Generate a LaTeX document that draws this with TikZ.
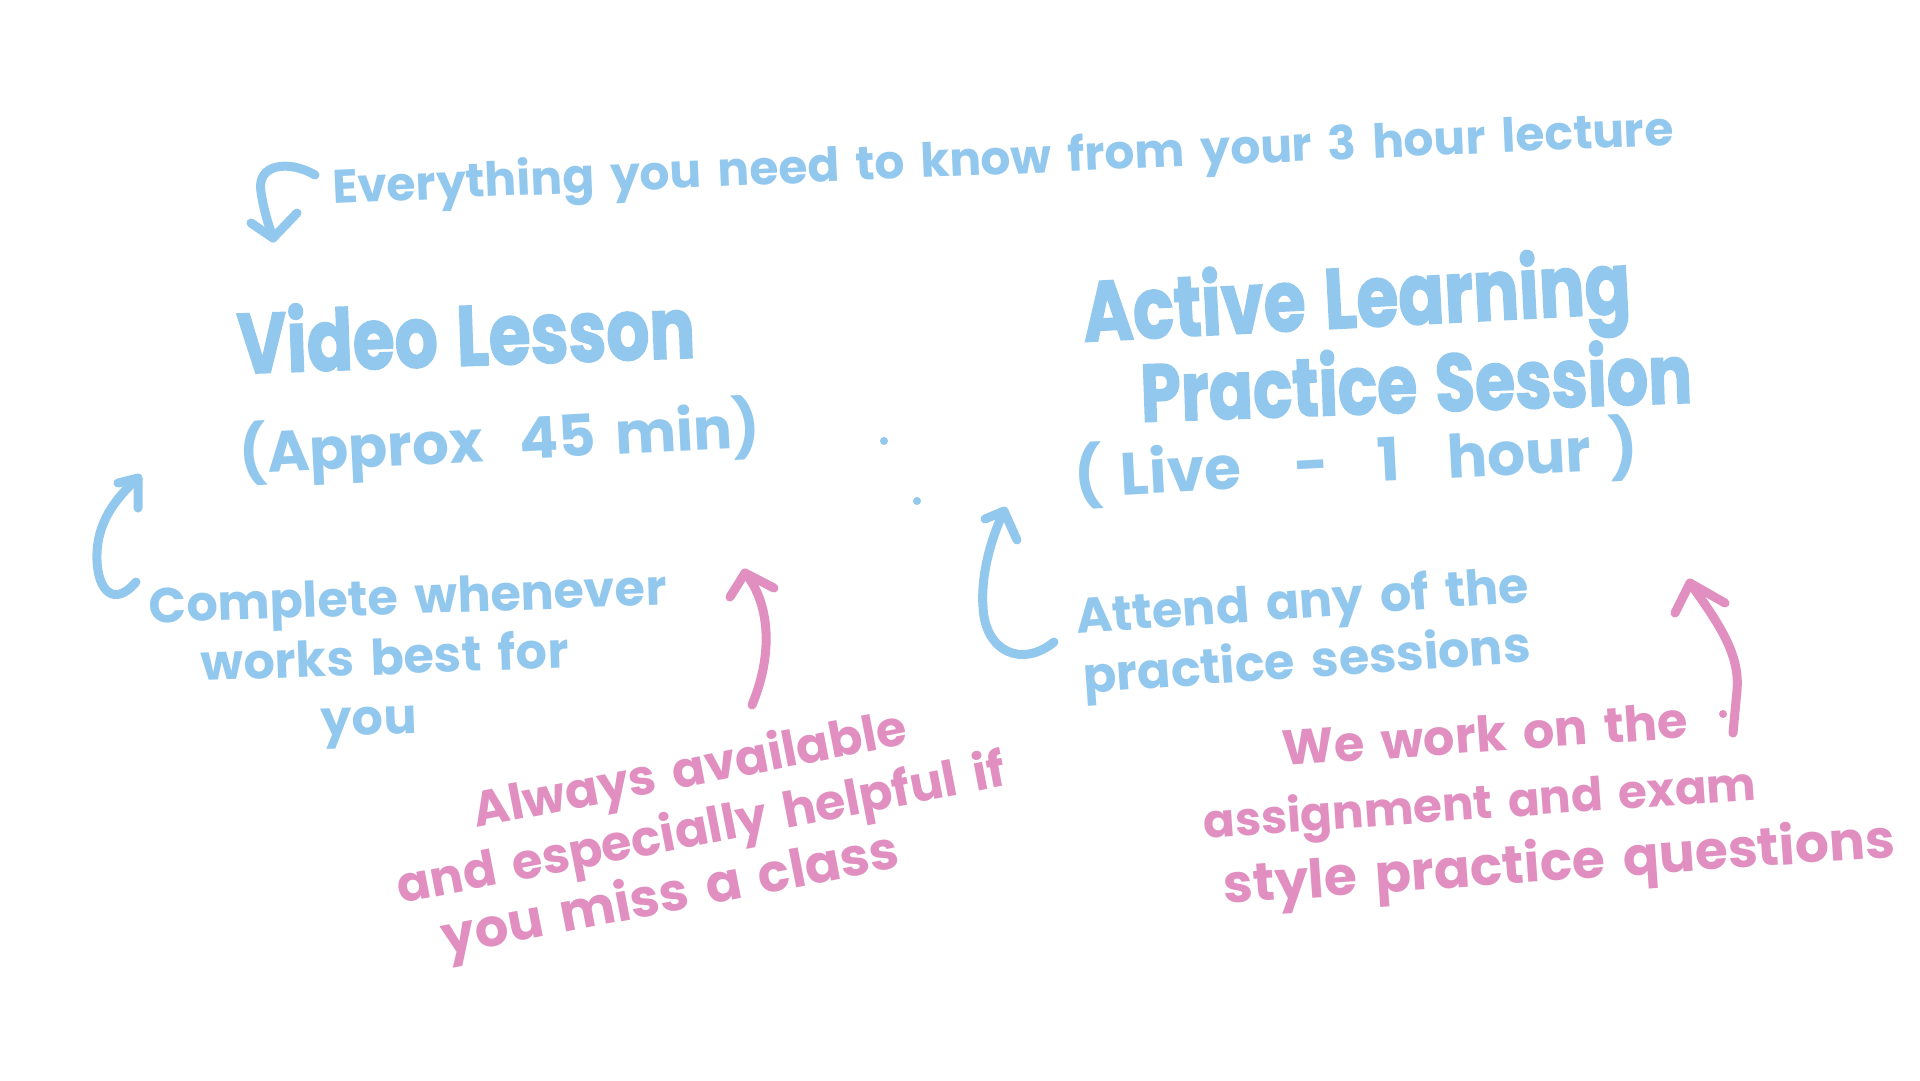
\documentclass[tikz,border=0pt]{standalone}
\usepackage{fontspec}
\setmainfont{Poppins}[WordSpace=1.6]
\newfontfamily\titlefont{Poppins}[WordSpace=1.3, FakeBold=2]
\usetikzlibrary{arrows.meta}
\definecolor{hblue}{HTML}{92C8EE}
\definecolor{hpink}{HTML}{E08FC0}
\newcommand\tallr[1]{\scalebox{1}[1.25]{#1}}
\begin{document}
\begin{tikzpicture}[x=0.1mm,y=-0.1mm,
  note/.style={inner sep=0pt, align=center},
  bluenote/.style={note, text=hblue, font=\bfseries\fontsize{14}{17}\selectfont},
  pinknote/.style={note, text=hpink, font=\bfseries\fontsize{14}{17}\selectfont},
  titletext/.style={note, text=hblue, font=\titlefont\bfseries\fontsize{19.3}{22}\selectfont},
  subtext/.style={note, text=hblue, font=\bfseries\fontsize{16.4}{20}\selectfont},
  stroke/.style={line width=0.9mm, line cap=round, line join=round},
  bluestroke/.style={stroke, draw=hblue},
  pinkstroke/.style={stroke, draw=hpink},
  speck/.style={circle, inner sep=0pt, minimum size=0.8mm}
]
\useasboundingbox[fill=white] (0,0) rectangle (1920,1080);

% texts
\node[bluenote, rotate=2.5, font=\bfseries\fontsize{13.4}{16}\selectfont] (head) at (1003,162) {Everything you need to know from your 3 hour lecture};
\node[titletext, rotate=2] (video) at (466,332) {\tallr{Video Lesson}};
\node[subtext, rotate=3] (approx) at (500,442) {(Approx\hspace{0.3em} 45 min)};
\node[bluenote, rotate=2] (complete) at (410,662) {Complete whenever\\works best for\hspace*{5mm}\mbox{}\\you\hspace*{8.6mm}\mbox{}};
\node[titletext, rotate=3] (active) at (1357,305) {\tallr{Active Learning}};
\node[titletext, rotate=2, font=\titlefont\bfseries\fontsize{18.5}{22}\selectfont] (practice) at (1416,380) {\tallr{Practice Session}};
\node[subtext, rotate=3, font=\bfseries\fontsize{17}{20}\selectfont] (live) at (1356,462) {(\hspace{0.3em}Live\hspace{0.9em}-\hspace{0.8em}1\hspace{0.8em}hour\hspace{0.3em})};
\node[bluenote, rotate=4] (attend) at (1305,635) {Attend any of the\\practice sessions};

\node[pinknote, rotate=11] (always) at (702,832) {Always available\\and especially helpful if\\{\fontsize{15}{17}\selectfont you miss a class}\hspace*{8.6mm}\mbox{}};

\node[pinknote, rotate=4, font=\bfseries\fontsize{14}{19}\selectfont] (work) at (1480,808) {\hspace*{2mm}We work on the\\{\fontsize{13.3}{19}\selectfont assignment and exam}\\\hspace*{15mm}{\fontsize{15.2}{19}\selectfont style practice questions}};

% specks
\node[speck, fill=hblue] (dotA) at (884,441) {};
\node[speck, fill=hblue] (dotB) at (917,501) {};
\node[speck, fill=hpink] (dotC) at (1723,714) {};

% arrow coordinates
\coordinate (t0) at (315,175);
\coordinate (t1) at (273,238);
\coordinate (la) at (136,582);
\coordinate (lt) at (138,478);
\coordinate (ra) at (1054,642);
\coordinate (rt) at (1004,511);
\coordinate (pa) at (752,705);
\coordinate (pt) at (745,573);
\coordinate (qa) at (1733,733);
\coordinate (qt) at (1690,583);

% top arrow
\draw[bluestroke] (t0) .. controls (290,160) and (256,163) .. (261,192) .. controls (264,212) and (269,226) .. (t1);
\draw[bluestroke] (251,223) -- (t1) -- (297,213);

% left blue arrow
\draw[bluestroke] (la) .. controls (115,607) and (98,592) .. (97,560) .. controls (96,530) and (108,505) .. (lt);
\draw[bluestroke] (118,483) -- (lt) -- (138,508);

% right blue arrow
\draw[bluestroke] (ra) .. controls (1022,668) and (985,652) .. (983,607) .. controls (981,580) and (988,545) .. (rt);
\draw[bluestroke] (985,519) -- (rt) -- (1017,540);

% pink arrow middle
\draw[pinkstroke] (pa) .. controls (775,650) and (768,600) .. (pt);
\draw[pinkstroke] (730,597) -- (pt) -- (774,588);

% pink arrow right
\draw[pinkstroke] (qa) -- (1737,690) .. controls (1740,655) and (1720,625) .. (qt);
\draw[pinkstroke] (1675,613) -- (qt) -- (1725,603);
\end{tikzpicture}
\end{document}
